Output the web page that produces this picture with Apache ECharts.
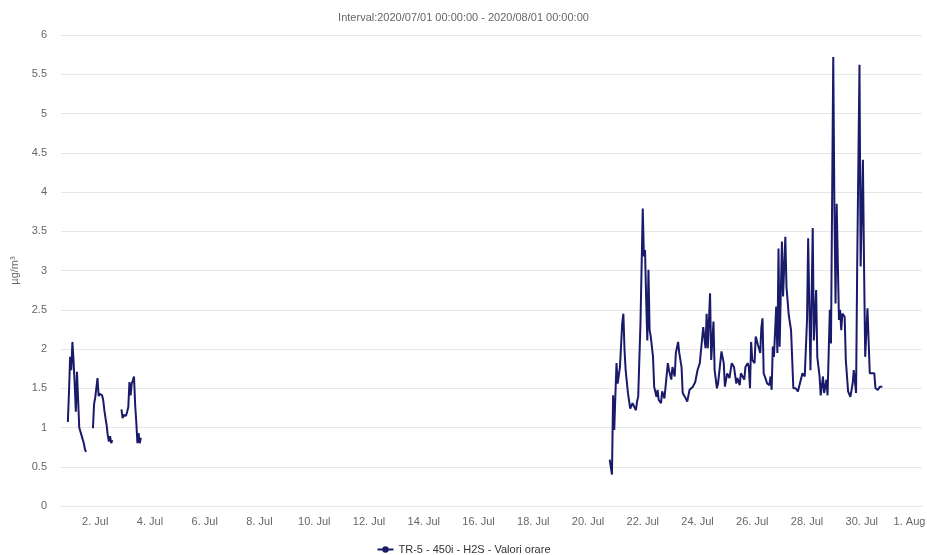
<!DOCTYPE html>
<html>
<head>
<meta charset="utf-8">
<script src="https://cdn.jsdelivr.net/npm/echarts@6/dist/echarts.min.js"></script>
<style>html,body{margin:0;padding:0;background:#fff}#c{width:927px;height:555px}</style>
</head>
<body>
<div id="c"></div>
<script>
const titleText = 'Interval:2020/07/01 00:00:00 - 2020/08/01 00:00:00';
const seriesName = 'TR-5 - 450i - H2S - Valori orare';
const yAxisName = 'µg/m³';
const yTicks = [0, 0.5, 1, 1.5, 2, 2.5, 3, 3.5, 4, 4.5, 5, 5.5, 6];
const xTickDates = ['2020-07-02','2020-07-04','2020-07-06','2020-07-08','2020-07-10','2020-07-12','2020-07-14','2020-07-16','2020-07-18','2020-07-20','2020-07-22','2020-07-24','2020-07-26','2020-07-28','2020-07-30','2020-08-01'];
const monthNames = ['Jan','Feb','Mar','Apr','May','Jun','Jul','Aug','Sep','Oct','Nov','Dec'];

// hourly readings (null = no data, breaks the line)
const times = [
'2020-07-01 00:00','2020-07-01 01:00','2020-07-01 02:00','2020-07-01 03:00','2020-07-01 04:00','2020-07-01 05:00','2020-07-01 06:00','2020-07-01 07:00','2020-07-01 08:00','2020-07-01 09:00','2020-07-01 10:00','2020-07-01 11:00','2020-07-01 12:00','2020-07-01 13:00','2020-07-01 14:00','2020-07-01 15:00','2020-07-01 16:00',
'2020-07-01 19:00',
'2020-07-01 22:00','2020-07-01 23:00','2020-07-02 00:00','2020-07-02 01:00','2020-07-02 02:00','2020-07-02 03:00','2020-07-02 04:00','2020-07-02 05:00','2020-07-02 06:00','2020-07-02 07:00','2020-07-02 08:00','2020-07-02 09:00','2020-07-02 10:00','2020-07-02 11:00','2020-07-02 12:00','2020-07-02 13:00','2020-07-02 14:00','2020-07-02 15:00',
'2020-07-02 19:00',
'2020-07-02 23:00','2020-07-03 00:00','2020-07-03 01:00','2020-07-03 02:00','2020-07-03 03:00','2020-07-03 04:00','2020-07-03 05:00','2020-07-03 06:00','2020-07-03 07:00','2020-07-03 08:00','2020-07-03 09:00','2020-07-03 10:00','2020-07-03 11:00','2020-07-03 12:00','2020-07-03 13:00','2020-07-03 14:00','2020-07-03 15:00','2020-07-03 16:00',
'2020-07-10 00:00',
'2020-07-20 19:00','2020-07-20 21:00','2020-07-20 22:00','2020-07-20 23:00','2020-07-21 00:00','2020-07-21 01:00','2020-07-21 02:00','2020-07-21 04:00','2020-07-21 06:00','2020-07-21 07:00','2020-07-21 08:00','2020-07-21 09:00','2020-07-21 11:00','2020-07-21 13:00','2020-07-21 15:00','2020-07-21 18:00','2020-07-21 19:00','2020-07-21 20:00','2020-07-21 22:00',
'2020-07-22 00:00','2020-07-22 01:00','2020-07-22 02:00','2020-07-22 03:00','2020-07-22 04:00','2020-07-22 05:00','2020-07-22 06:00','2020-07-22 07:00','2020-07-22 09:00','2020-07-22 10:00','2020-07-22 12:00','2020-07-22 13:00','2020-07-22 14:00','2020-07-22 16:00','2020-07-22 17:00','2020-07-22 19:00','2020-07-22 20:00','2020-07-22 22:00','2020-07-22 23:00',
'2020-07-23 01:00','2020-07-23 02:00','2020-07-23 04:00','2020-07-23 05:00','2020-07-23 07:00','2020-07-23 08:00','2020-07-23 10:00','2020-07-23 11:00','2020-07-23 13:00','2020-07-23 15:00','2020-07-23 17:00','2020-07-23 20:00','2020-07-23 22:00',
'2020-07-24 00:00','2020-07-24 02:00','2020-07-24 05:00','2020-07-24 07:00','2020-07-24 08:00','2020-07-24 09:00','2020-07-24 11:00','2020-07-24 12:00','2020-07-24 14:00','2020-07-24 15:00','2020-07-24 17:00','2020-07-24 18:00','2020-07-24 21:00','2020-07-24 23:00',
'2020-07-25 00:00','2020-07-25 02:00','2020-07-25 04:00','2020-07-25 06:00','2020-07-25 08:00','2020-07-25 10:00','2020-07-25 11:00','2020-07-25 13:00','2020-07-25 14:00','2020-07-25 15:00','2020-07-25 17:00','2020-07-25 18:00','2020-07-25 20:00','2020-07-25 21:00','2020-07-25 22:00','2020-07-25 23:00',
'2020-07-26 00:00','2020-07-26 02:00','2020-07-26 03:00','2020-07-26 05:00','2020-07-26 07:00','2020-07-26 08:00','2020-07-26 09:00','2020-07-26 10:00','2020-07-26 12:00','2020-07-26 13:00','2020-07-26 15:00','2020-07-26 16:00','2020-07-26 17:00','2020-07-26 18:00','2020-07-26 19:00','2020-07-26 21:00','2020-07-26 22:00','2020-07-26 23:00',
'2020-07-27 00:00','2020-07-27 02:00','2020-07-27 03:00','2020-07-27 05:00','2020-07-27 06:00','2020-07-27 08:00','2020-07-27 10:00','2020-07-27 12:00','2020-07-27 14:00','2020-07-27 16:00','2020-07-27 17:00','2020-07-27 20:00','2020-07-27 22:00',
'2020-07-28 00:00','2020-07-28 01:00','2020-07-28 03:00','2020-07-28 05:00','2020-07-28 06:00','2020-07-28 08:00','2020-07-28 09:00','2020-07-28 11:00','2020-07-28 12:00','2020-07-28 14:00','2020-07-28 15:00','2020-07-28 17:00','2020-07-28 18:00','2020-07-28 20:00','2020-07-28 21:00','2020-07-28 23:00',
'2020-07-29 00:00','2020-07-29 01:00','2020-07-29 02:00','2020-07-29 04:00','2020-07-29 05:00','2020-07-29 06:00','2020-07-29 07:00','2020-07-29 09:00','2020-07-29 10:00','2020-07-29 12:00','2020-07-29 13:00','2020-07-29 14:00','2020-07-29 16:00','2020-07-29 17:00','2020-07-29 19:00','2020-07-29 20:00','2020-07-29 22:00','2020-07-29 23:00',
'2020-07-30 01:00','2020-07-30 02:00','2020-07-30 03:00','2020-07-30 05:00','2020-07-30 07:00','2020-07-30 09:00','2020-07-30 11:00','2020-07-30 12:00','2020-07-30 14:00','2020-07-30 16:00','2020-07-30 18:00'
];
const values = [
1.07,1.45,1.90,1.73,2.09,1.85,1.55,1.20,1.71,1.70,1.00,0.95,0.90,0.88,0.80,0.72,0.69,
null,
0.99,1.30,1.38,1.40,1.63,1.40,1.43,1.42,1.41,1.35,1.22,1.12,1.03,0.90,0.82,0.89,0.80,0.84,
null,
1.23,1.12,1.16,1.17,1.15,1.20,1.26,1.58,1.41,1.56,1.60,1.65,1.29,1.07,0.80,0.93,0.80,0.87,
null,
0.59,0.40,1.41,0.97,1.41,1.82,1.56,1.77,2.33,2.45,1.99,1.73,1.44,1.24,1.31,1.22,1.33,1.39,2.33,
3.79,3.18,3.26,2.62,2.11,3.01,2.24,2.16,1.90,1.52,1.39,1.48,1.35,1.31,1.46,1.37,1.52,1.82,1.73,
1.61,1.77,1.65,1.95,2.09,1.95,1.77,1.44,1.39,1.33,1.48,1.52,1.58,
1.73,1.82,2.28,2.01,2.45,2.01,2.71,1.86,2.35,1.73,1.50,1.56,1.97,1.82,
1.52,1.69,1.63,1.82,1.77,1.56,1.63,1.54,1.69,1.71,1.61,1.77,1.82,1.77,1.50,2.09,
1.86,1.82,2.16,2.05,1.95,2.28,2.39,1.69,1.61,1.56,1.54,1.65,1.48,2.03,1.90,2.54,1.95,3.28,
2.03,3.37,2.67,3.43,2.79,2.43,2.24,1.50,1.50,1.46,1.48,1.69,1.65,
2.37,3.41,1.73,3.54,2.11,2.75,1.90,1.65,1.41,1.65,1.44,1.61,1.41,2.50,2.07,5.72,
3.81,2.58,3.85,2.37,2.50,2.24,2.45,2.41,1.86,1.46,1.44,1.39,1.56,1.73,1.44,3.09,5.62,3.05,
4.41,3.05,1.90,2.52,1.69,1.69,1.69,1.50,1.48,1.52,1.52
];

const startMs = Date.UTC(2020, 6, 1);
const DAY = 86400000;
function toDays(s) {
  const [d, t] = s.split(' ');
  const [Y, M, D] = d.split('-').map(Number);
  const [h, m] = (t || '00:00').split(':').map(Number);
  return (Date.UTC(Y, M - 1, D, h, m) - startMs) / DAY;
}
const seriesData = times.map((t, i) => [toDays(t), values[i]]);
const xTickValues = xTickDates.map(toDays);
const lastTick = xTickValues[xTickValues.length - 1];

const chart = echarts.init(document.getElementById('c'));
chart.setOption({
  animation: false,
  backgroundColor: '#fff',
  title: {
    text: titleText, left: 'center', top: 7,
    textStyle: { fontSize: 11, fontWeight: 'normal', color: '#666', fontFamily: 'Liberation Sans' }
  },
  legend: {
    top: 539, left: 'center', itemWidth: 16, itemHeight: 8,
    textStyle: { fontSize: 11, color: '#333', fontFamily: 'Liberation Sans' },
    data: [seriesName]
  },
  grid: { left: 61, right: 5, top: 35, bottom: 49, outerBoundsMode: 'none', containLabel: false },
  xAxis: {
    type: 'value', min: -0.25, max: 31.2,
    axisLine: { show: true, lineStyle: { color: '#e6e6e6' } },
    axisTick: { show: false },
    splitLine: { show: false },
    axisLabel: {
      customValues: xTickValues, margin: 10, fontSize: 11, color: '#666', fontFamily: 'Liberation Sans',
      hideOverlap: false,
      formatter: v => {
        const d = new Date(startMs + Math.round(v * DAY));
        const s = d.getUTCDate() + '. ' + monthNames[d.getUTCMonth()];
        return Math.abs(v - lastTick) < 1e-6 ? '{last|' + s + '}' : s;
      },
      rich: { last: { fontSize: 11, color: '#666', fontFamily: 'Liberation Sans', padding: [0, 14, 0, 0] } }
    }
  },
  yAxis: {
    type: 'value', min: yTicks[0], max: yTicks[yTicks.length - 1], interval: 0.5,
    name: yAxisName, nameLocation: 'middle', nameRotate: 90, nameGap: 38,
    nameTextStyle: { fontSize: 11, color: '#666', fontFamily: 'Liberation Sans' },
    axisLine: { show: false }, axisTick: { show: false },
    splitLine: { lineStyle: { color: '#e6e6e6' } },
    axisLabel: { margin: 14, fontSize: 11, color: '#666', fontFamily: 'Liberation Sans' }
  },
  series: [{
    name: seriesName, type: 'line', data: seriesData,
    showSymbol: false, symbol: 'circle', symbolSize: 6, connectNulls: false,
    color: '#1a1a6b', lineStyle: { width: 2, color: '#1a1a6b' }
  }]
});
</script>
</body>
</html>
